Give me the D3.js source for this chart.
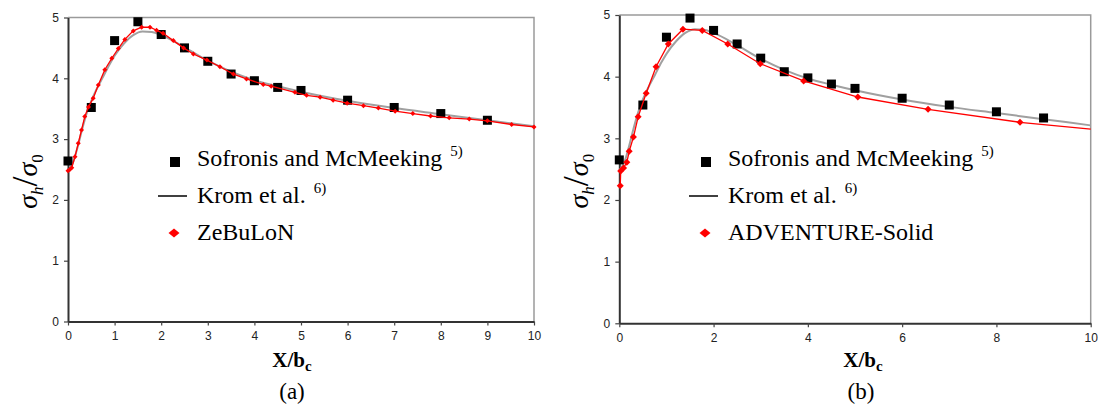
<!DOCTYPE html>
<html>
<head>
<meta charset="utf-8">
<script src="https://cdn.jsdelivr.net/npm/d3@7"></script>
<style>
  body { margin: 0; background: #fff; }
  svg { display: block; }
</style>
</head>
<body>
<div id="chart"></div>
<script>
// Sofronis and McMeeking reference points (same in both panels)
const sofronisX = [0, 0.5, 1, 1.5, 2, 2.5, 3, 3.5, 4, 4.5, 5, 6, 7, 8, 9];
const sofronisA = [2.64, 3.52, 4.62, 4.93, 4.72, 4.50, 4.28, 4.07, 3.96, 3.85, 3.80, 3.64, 3.52, 3.42, 3.31];
const sofronisB = [2.65, 3.54, 4.64, 4.95, 4.75, 4.53, 4.30, 4.08, 3.98, 3.88, 3.81, 3.65, 3.54, 3.43, 3.33];

// Krom et al. curve
const kromX = [0, 0.1, 0.2, 0.3, 0.4, 0.5, 0.6, 0.75, 0.9, 1.0, 1.2, 1.4, 1.6, 1.8, 2.0, 2.5, 3.0, 3.5, 4, 4.5, 5, 6, 7, 8, 9, 10];
const kromY = [2.48, 2.6, 2.85, 3.15, 3.42, 3.63, 3.8, 4.02, 4.24, 4.37, 4.57, 4.71, 4.77, 4.76, 4.71, 4.51, 4.29, 4.11, 3.97, 3.87, 3.78, 3.63, 3.51, 3.41, 3.31, 3.21];

// ZeBuLoN (panel a)
const zebulonX = [0, 0.04, 0.08, 0.15, 0.22, 0.29, 0.36, 0.44, 0.54, 0.65, 0.79, 0.94, 1.08, 1.22, 1.40, 1.58, 1.76, 1.90, 2.04, 2.26, 2.48, 2.69, 2.98, 3.26, 3.55, 3.83, 4.19, 4.36, 4.87, 5.12, 5.41, 5.69, 5.99, 6.34, 6.66, 7.02, 7.40, 7.78, 8.18, 8.61, 9.0, 9.52, 10];
const zebulonY = [2.48, 2.50, 2.53, 2.71, 2.93, 3.15, 3.37, 3.53, 3.67, 3.89, 4.14, 4.33, 4.49, 4.64, 4.78, 4.84, 4.84, 4.79, 4.74, 4.62, 4.50, 4.40, 4.30, 4.19, 4.07, 3.99, 3.90, 3.87, 3.77, 3.72, 3.69, 3.64, 3.59, 3.55, 3.51, 3.46, 3.42, 3.38, 3.35, 3.33, 3.30, 3.24, 3.20];

// ADVENTURE-Solid (panel b)
const adventureX = [0.02, 0.03, 0.09, 0.16, 0.21, 0.30, 0.40, 0.57, 0.78, 1.04, 1.35, 1.76, 2.30, 2.99, 3.91, 5.06, 6.55, 8.5];
const adventureY = [2.23, 2.47, 2.52, 2.61, 2.79, 3.02, 3.35, 3.73, 4.16, 4.53, 4.77, 4.75, 4.53, 4.21, 3.93, 3.67, 3.47, 3.26];
const adventureEnd = [10, 3.15];

const xTicksA = [0, 1, 2, 3, 4, 5, 6, 7, 8, 9, 10];
const xTicksB = [0, 2, 4, 6, 8, 10];
const yTicks = [0, 1, 2, 3, 4, 5];

const width = 1098, height = 408;
const serif = "'Liberation Serif', 'Times New Roman', Times, serif";

const svg = d3.select("#chart").append("svg")
    .attr("width", width)
    .attr("height", height);

const zip = (xs, ys) => xs.map((x, i) => ({x: x, y: ys[i]}));

function diamond(w, h) {
    return `M0,${-h}L${w},0L0,${h}L${-w},0Z`;
}

function panel(opt) {
    const x = d3.scaleLinear().domain([0, 10]).range([opt.left, opt.right]);
    const y = d3.scaleLinear().domain([0, 5]).range([opt.bottom, opt.top]);
    const g = svg.append("g");

    // frame top/right
    g.append("path")
        .attr("d", `M${opt.left},${opt.top}H${opt.right}V${opt.bottom}`)
        .attr("fill", "none")
        .attr("stroke", "#9a9a9a")
        .attr("stroke-width", 1.5);

    const xAxis = g.append("g")
        .attr("transform", `translate(0,${opt.bottom})`)
        .call(d3.axisBottom(x).tickValues(opt.xTicks).tickFormat(d3.format("d"))
            .tickSize(4).tickSizeOuter(0).tickPadding(6));
    const yAxis = g.append("g")
        .attr("transform", `translate(${opt.left},0)`)
        .call(d3.axisLeft(y).tickValues(yTicks).tickFormat(d3.format("d"))
            .tickSize(4).tickSizeOuter(0).tickPadding(5));

    [xAxis, yAxis].forEach(a => {
        a.select(".domain").attr("stroke", "#333").attr("stroke-width", 2);
        a.selectAll(".tick line").attr("stroke", "#444").attr("stroke-width", 1.2);
        a.selectAll(".tick text")
            .attr("fill", "#222")
            .style("font-family", "Arial, 'Liberation Sans', sans-serif")
            .style("font-size", "12px");
    });

    // Krom et al.
    g.append("path")
        .datum(zip(kromX, kromY))
        .attr("d", d3.line().x(d => x(d.x)).y(d => y(d.y)).curve(d3.curveMonotoneX))
        .attr("fill", "none")
        .attr("stroke", "#a0a0a0")
        .attr("stroke-width", 2);

    // Sofronis squares
    g.append("g").selectAll("rect")
        .data(zip(sofronisX, opt.sofronis))
        .join("rect")
        .attr("x", d => x(d.x) - 4.5)
        .attr("y", d => y(d.y) - 4.5)
        .attr("width", 9)
        .attr("height", 9)
        .attr("fill", "#000");

    // FEM results
    const fem = zip(opt.femX, opt.femY);
    const femLine = opt.femEnd ? fem.concat([{x: opt.femEnd[0], y: opt.femEnd[1]}]) : fem;
    g.append("path")
        .datum(femLine)
        .attr("d", d3.line().x(d => x(d.x)).y(d => y(d.y)))
        .attr("fill", "none")
        .attr("stroke", "#ff0000")
        .attr("stroke-width", 1.3);

    g.append("g").selectAll("path")
        .data(fem)
        .join("path")
        .attr("transform", d => `translate(${x(d.x)},${y(d.y)})`)
        .attr("d", diamond(opt.mw, opt.mh))
        .attr("fill", "#ff0000");

    // y label
    const yl = g.append("text")
        .attr("transform", `translate(${opt.left - 31},${(opt.top + opt.bottom) / 2 + 12}) rotate(-90)`)
        .attr("text-anchor", "middle")
        .attr("font-family", serif)
        .style("font-style", "italic")
        .style("font-size", "28px")
        .attr("fill", "#000");
    yl.append("tspan").text("σ");
    yl.append("tspan").attr("dy", 6).style("font-size", "17px").text("h");
    yl.append("tspan").attr("dy", -6).style("font-size", "36px").style("font-style", "normal").text("/");
    yl.append("tspan").text("σ");
    yl.append("tspan").attr("dy", 6).style("font-size", "17px").style("font-style", "normal").text("0");

    // x title and caption
    const xt = g.append("text")
        .attr("x", opt.titleX)
        .attr("y", 367)
        .attr("text-anchor", "middle")
        .attr("font-family", serif)
        .style("font-weight", "bold")
        .style("font-size", "21px");
    xt.append("tspan").text("X/b");
    xt.append("tspan").attr("dy", 4).style("font-size", "15px").text("c");

    g.append("text")
        .attr("x", opt.captionX)
        .attr("y", 399)
        .attr("text-anchor", "middle")
        .attr("font-family", serif)
        .style("font-size", "23px")
        .text(opt.caption);

    // legend
    const lg = g.append("g")
        .attr("font-family", serif)
        .style("font-size", "24px");
    const lx = opt.legendX;
    lg.append("rect")
        .attr("x", lx - 5).attr("y", 157)
        .attr("width", 10).attr("height", 10)
        .attr("fill", "#000");
    const t1 = lg.append("text").attr("x", lx + 22).attr("y", 166);
    t1.append("tspan").text("Sofronis and McMeeking");
    t1.append("tspan").attr("dx", 8).attr("dy", -10).style("font-size", "15px").text("5)");

    lg.append("line")
        .attr("x1", lx - 17).attr("x2", lx + 12)
        .attr("y1", 196).attr("y2", 196)
        .attr("stroke", "#000").attr("stroke-width", 1.5);
    const t2 = lg.append("text").attr("x", lx + 22).attr("y", 203);
    t2.append("tspan").text("Krom et al.");
    t2.append("tspan").attr("dx", 8).attr("dy", -10).style("font-size", "15px").text("6)");

    lg.append("path")
        .attr("transform", `translate(${lx - 1},233)`)
        .attr("d", diamond(5.5, 4.5))
        .attr("fill", "#ff0000");
    lg.append("text").attr("x", lx + 22).attr("y", 240).text(opt.femName);
}

panel({
    left: 68, right: 534, top: 17.5, bottom: 321.5,
    xTicks: xTicksA,
    sofronis: sofronisA,
    femX: zebulonX, femY: zebulonY, femEnd: null,
    mw: 2.5, mh: 2.5,
    femName: "ZeBuLoN",
    titleX: 292, captionX: 292, caption: "(a)",
    legendX: 175
});

panel({
    left: 619.3, right: 1090.7, top: 15, bottom: 323.3,
    xTicks: xTicksB,
    sofronis: sofronisB,
    femX: adventureX, femY: adventureY, femEnd: adventureEnd,
    mw: 3.5, mh: 3.5,
    femName: "ADVENTURE-Solid",
    titleX: 863, captionX: 861, caption: "(b)",
    legendX: 706
});
</script>
</body>
</html>
